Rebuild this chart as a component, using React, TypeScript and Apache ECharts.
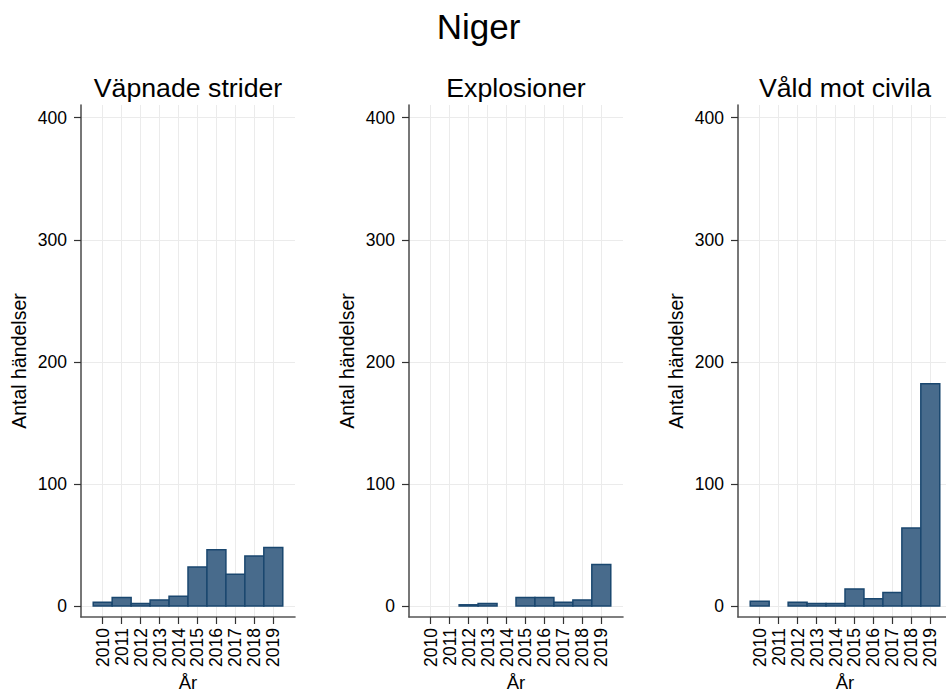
import React, { useEffect, useRef } from 'react';
import * as echarts from 'echarts';

const years = [2010, 2011, 2012, 2013, 2014, 2015, 2016, 2017, 2018, 2019];
const panelTitles = ['Väpnade strider', 'Explosioner', 'Våld mot civila'];
const vapnadeStrider = [3, 7, 2, 5, 8, 32, 46, 26, 41, 48];
const explosioner = [0, 0, 1, 2, 0, 7, 7, 3, 5, 34];
const valdMotCivila = [4, 0, 3, 2, 2, 14, 6, 11, 64, 182];
const yTicks = [0, 100, 200, 300, 400];
const mainTitle = 'Niger';
const xTitle = 'År';
const yTitle = 'Antal händelser';

const panelValues = [vapnadeStrider, explosioner, valdMotCivila];
const gridLefts = [81, 409, 738];
const FONT = '"Liberation Sans", Arial, sans-serif';
const FILL = '#486b8c';
const STROKE = '#1a476f';

export default function App() {
  const ref = useRef<HTMLDivElement>(null);
  useEffect(() => {
    if (!ref.current) return;
    const chart = echarts.init(ref.current, undefined, { renderer: 'svg' });
    const gridW = 214;
    const option: any = {
      animation: false,
      backgroundColor: '#ffffff',
      textStyle: { fontFamily: FONT },
      title: [
        {
          text: mainTitle,
          left: 478.5,
          textAlign: 'center',
          top: 9,
          padding: 0,
          textStyle: { fontSize: 35, fontWeight: 'normal', color: '#000', fontFamily: FONT },
        },
        ...panelTitles.map((t, i) => ({
          text: t,
          left: gridLefts[i] + gridW / 2,
          textAlign: 'center',
          top: 74,
          padding: 0,
          textStyle: { fontSize: 26.7, fontWeight: 'normal', color: '#000', fontFamily: FONT },
        })),
      ],
      grid: gridLefts.map((l) => ({
        left: l,
        width: gridW,
        top: 105,
        height: 512,
        containLabel: false,
        outerBoundsMode: 'none',
      })),
      xAxis: gridLefts.map((_, i) => ({
        gridIndex: i,
        type: 'value',
        min: 2008.855,
        max: 2020.145,
        name: xTitle,
        nameLocation: 'middle',
        nameGap: 55,
        nameMoveOverlap: false,
        nameTextStyle: { fontSize: 18.5, color: '#000', fontFamily: FONT, lineHeight: 20 },
        axisLine: { show: true, onZero: false, lineStyle: { color: '#555', width: 1.6 } },
        axisTick: { show: true, length: 7, customValues: years, lineStyle: { color: '#333', width: 1.2 } },
        axisLabel: {
          customValues: years,
          rotate: 90,
          fontSize: 17.5,
          color: '#000',
          margin: 11,
          fontFamily: FONT,
          formatter: (v: number) => String(v),
        },
        splitLine: { show: true, lineStyle: { color: '#ebebeb', width: 1 } },
      })),
      yAxis: gridLefts.map((_, i) => ({
        gridIndex: i,
        type: 'value',
        min: -9,
        max: 410.4,
        name: yTitle,
        nameLocation: 'middle',
        nameGap: 52,
        nameMoveOverlap: false,
        nameRotate: 90,
        nameTextStyle: { fontSize: 19.5, color: '#000', fontFamily: FONT },
        axisLine: { show: true, onZero: false, lineStyle: { color: '#555', width: 1.6 } },
        axisTick: { show: true, length: 7, customValues: yTicks, lineStyle: { color: '#333', width: 1.2 } },
        axisLabel: {
          customValues: yTicks,
          fontSize: 17.5,
          color: '#000',
          margin: 14,
          fontFamily: FONT,
          formatter: (v: number) => String(v),
        },
        splitLine: { show: true, lineStyle: { color: '#ebebeb', width: 1 } },
      })),
      series: panelValues.map((vals, i) => ({
        type: 'custom',
        xAxisIndex: i,
        yAxisIndex: i,
        encode: { x: 0, y: 1 },
        data: years.map((y, j) => [y, vals[j]]),
        renderItem: (params: any, api: any) => {
          const x = api.value(0);
          const v = api.value(1);
          if (!v) return { type: 'group', children: [] };
          const p0 = api.coord([x - 0.5, 0]);
          const p1 = api.coord([x + 0.5, v]);
          return {
            type: 'rect',
            shape: { x: p0[0], y: p1[1], width: p1[0] - p0[0], height: p0[1] - p1[1] },
            style: { fill: FILL, stroke: STROKE, lineWidth: 1.5 },
          };
        },
      })),
    };
    chart.setOption(option);
    return () => chart.dispose();
  }, []);
  return (
    <div
      ref={ref}
      style={{ position: 'absolute', left: 0, top: 0, width: 946, height: 693 }}
    />
  );
}
